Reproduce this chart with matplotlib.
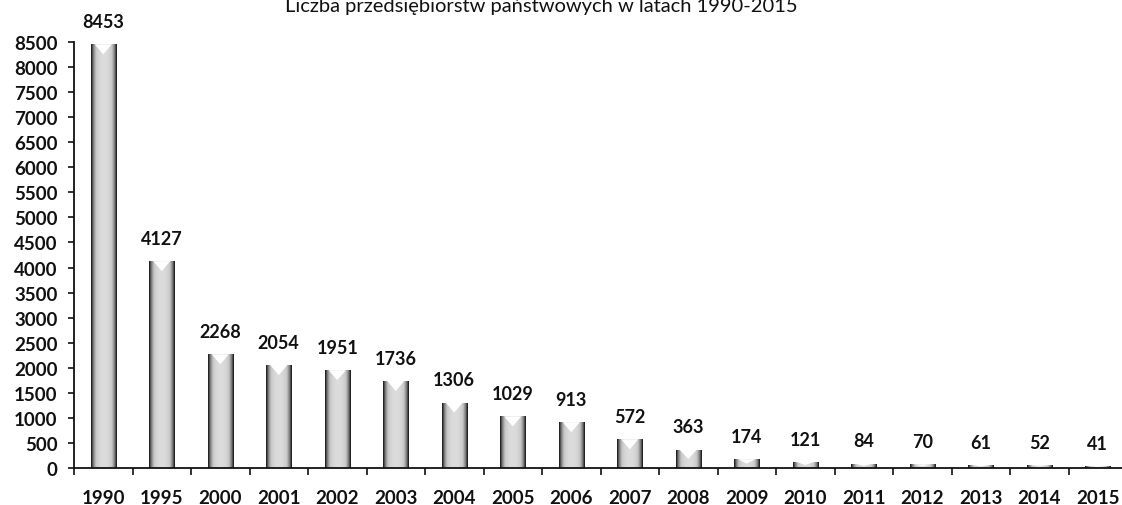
import numpy as np
import matplotlib
matplotlib.use("Agg")
import matplotlib.pyplot as plt
from matplotlib.colors import LinearSegmentedColormap
from matplotlib.patches import Polygon

years = ["1990", "1995", "2000", "2001", "2002", "2003", "2004", "2005", "2006",
         "2007", "2008", "2009", "2010", "2011", "2012", "2013", "2014", "2015"]
values = [8453, 4127, 2268, 2054, 1951, 1736, 1306, 1029, 913,
          572, 363, 174, 121, 84, 70, 61, 52, 41]
yticks = list(range(0, 8501, 500))
title = "Liczba przedsiębiorstw państwowych w latach 1990-2015"

plt.rcParams['font.family'] = ['Lato', 'DejaVu Sans']

W, H, DPI = 1122, 506, 100
fig = plt.figure(figsize=(W / DPI, H / DPI), dpi=DPI)
ax = fig.add_axes([74 / W, 1 - 469 / H, 1053 / W, 426 / H])

x = np.arange(len(years))
bw = 0.43
bars = ax.bar(x, values, width=bw, color='none', edgecolor='none', zorder=2)

ax.set_xlim(-0.5, len(years) - 0.5)
ax.set_ylim(0, 8500)

# cylinder-like gradient fill for each bar
prof = np.linspace(-1, 1, 64)
grad = (1 - np.abs(prof) ** 2.2)[None, :]
cmap = LinearSegmentedColormap.from_list("g", ["#111111", "#7a7a7a", "#c8c8c8", "#dcdcdc"])
px_per_unit = 426 / 8500
for rect, v in zip(bars, values):
    x0 = rect.get_x()
    w = rect.get_width()
    im = ax.imshow(grad, extent=(x0, x0 + w, 0, v), aspect='auto', cmap=cmap,
                   vmin=0, vmax=1, zorder=2, interpolation='bilinear')
    im.set_clip_path(rect)
    depth = min(10 / px_per_unit, v * 0.5)
    notch = Polygon([(x0 + w * 0.16, v), (x0 + w * 0.5, v - depth), (x0 + w * 0.84, v)],
                    closed=True, facecolor='white', edgecolor='none', zorder=3)
    ax.add_patch(notch)
    ax.annotate(str(v), (x0 + w / 2, v), xytext=(0, 16.5), textcoords='offset points',
                ha='center', va='center', fontsize=13, fontweight='bold', color='#111111')

ax.set_yticks(yticks)
ax.set_yticklabels([str(t) for t in yticks], fontsize=13.5, fontweight='bold')
ax.tick_params(axis='y', direction='out', length=4, width=1.2, pad=8, colors='#111111')

ax.set_xticks(x)
ax.set_xticklabels(years, fontsize=13.5, fontweight='bold')
ax.tick_params(axis='x', which='major', length=0, pad=15, colors='#111111')
ax.set_xticks(np.arange(-0.5, len(years), 1.0), minor=True)
ax.tick_params(axis='x', which='minor', direction='out', length=5, width=1.2, color='#111111')

for s in ['top', 'right']:
    ax.spines[s].set_visible(False)
for s in ['left', 'bottom']:
    ax.spines[s].set_linewidth(1.3)
    ax.spines[s].set_color('#111111')

fig.text(541 / W, 1 - 12 / H, title, ha='center', va='baseline', fontsize=14.5, color='#111111')

fig.savefig("out.png", dpi=DPI)
